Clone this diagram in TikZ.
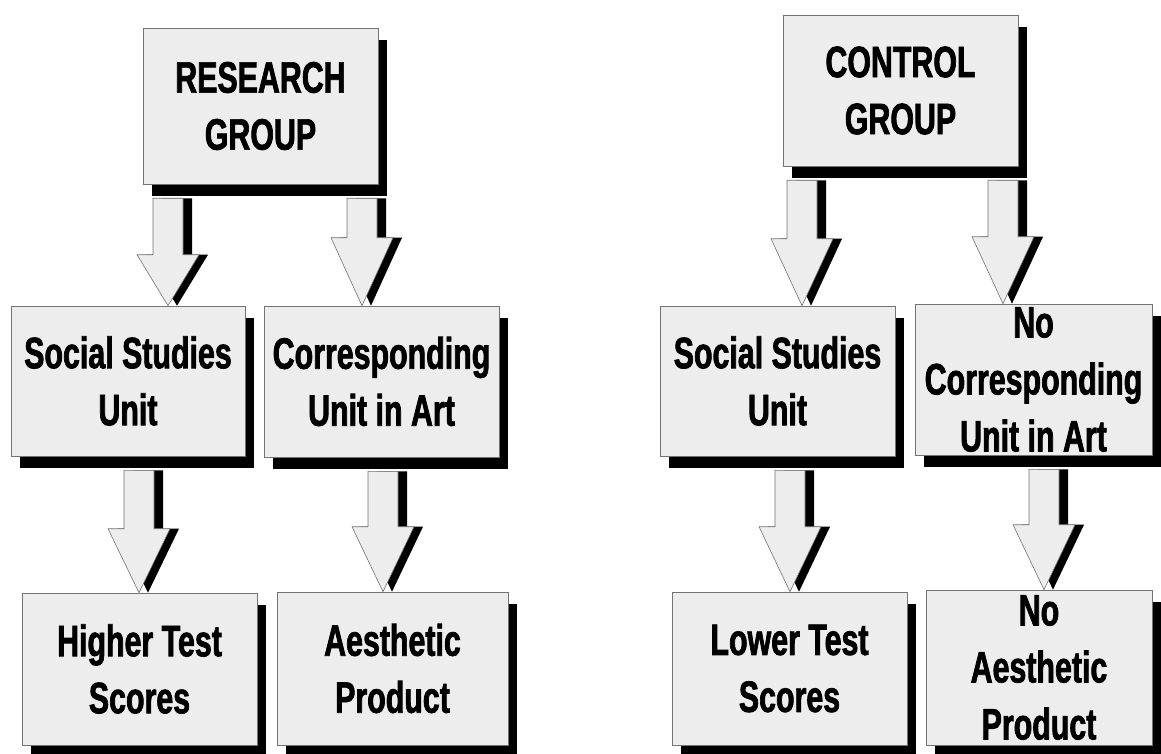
\documentclass[tikz,border=0pt]{standalone}
\usepackage{fontspec}
\setmainfont{Liberation Sans}[FakeStretch=0.69,FakeBold=1.6]
\usetikzlibrary{shadows,calc}
\pgfdeclarelayer{bg}
\pgfsetlayers{bg,main}
\tikzset{
  box/.style={draw=black!55, line width=0.6pt, fill=black!7, inner sep=0pt, align=center,
     font=\fontsize{44}{57}\selectfont\bfseries,
     drop shadow={shadow xshift=9pt, shadow yshift=-12pt, fill=black, opacity=1}},
  arrowbody/.style={draw=black!55, line width=0.6pt, fill=black!7},
  arrowshadow/.style={fill=black},
}
% #1 source node, #2 target node, #3 centre x (px), #4 head height (px)
\newcommand\blockarr[4]{%
  \begin{pgfonlayer}{bg}
  \path[arrowshadow, shift={(9pt,-11pt)}] let \p1=(#1.south), \p2=(#2.north) in
    (#3pt-15pt,\y1-14pt) -- (#3pt+15pt,\y1-14pt) -- (#3pt+15pt,\y2+#4pt) -- (#3pt+31pt,\y2+#4pt)
    -- (#3pt,\y2) -- (#3pt-31pt,\y2+#4pt) -- (#3pt-15pt,\y2+#4pt) -- cycle;
  \path[arrowbody] let \p1=(#1.south), \p2=(#2.north) in
    (#3pt-15pt,\y1-14pt) -- (#3pt+15pt,\y1-14pt) -- (#3pt+15pt,\y2+#4pt) -- (#3pt+31pt,\y2+#4pt)
    -- (#3pt,\y2) -- (#3pt-31pt,\y2+#4pt) -- (#3pt-15pt,\y2+#4pt) -- cycle;
  \end{pgfonlayer}}
\begin{document}
\begin{tikzpicture}[x=1pt,y=-1pt]
\useasboundingbox (0,0) rectangle (1161,754);
% top boxes
\node[box, minimum width=235pt, minimum height=156pt] (rg) at (260.5,106) {RESEARCH\\GROUP};
\node[box, minimum width=235pt, minimum height=151pt] (cg) at (900.5,90.5) {CONTROL\\GROUP};
% middle boxes
\node[box, minimum width=234pt, minimum height=150pt] (rs) at (128,381) {Social Studies\\Unit};
\node[box, minimum width=235pt, minimum height=151pt] (rc) at (381.5,381.5) {Corresponding\\Unit in Art};
\node[box, minimum width=235pt, minimum height=150pt] (cs) at (777.5,381) {Social Studies\\Unit};
\node[box, minimum width=237pt, minimum height=151pt] (cn) at (1033.5,379.5) {No\\Corresponding\\Unit in Art};
% bottom boxes
\node[box, minimum width=235pt, minimum height=152pt] (rh) at (139.5,669) {Higher Test\\Scores};
\node[box, minimum width=231pt, minimum height=153pt] (ra) at (392.5,668.5) {Aesthetic\\Product};
\node[box, minimum width=235pt, minimum height=153pt] (cl) at (789.5,668.5) {Lower Test\\Scores};
\node[box, minimum width=226pt, minimum height=155pt] (ca) at (1039,667.5) {No\\Aesthetic\\Product};
% arrows
\blockarr{rg}{rs}{168}{51}
\blockarr{rg}{rc}{362}{68}
\blockarr{cg}{cs}{802}{67}
\blockarr{cg}{cn}{1003}{67}
\blockarr{rs}{rh}{139}{64}
\blockarr{rc}{ra}{383}{65}
\blockarr{cs}{cl}{790}{65}
\blockarr{cn}{ca}{1044}{65}
\end{tikzpicture}
\end{document}
